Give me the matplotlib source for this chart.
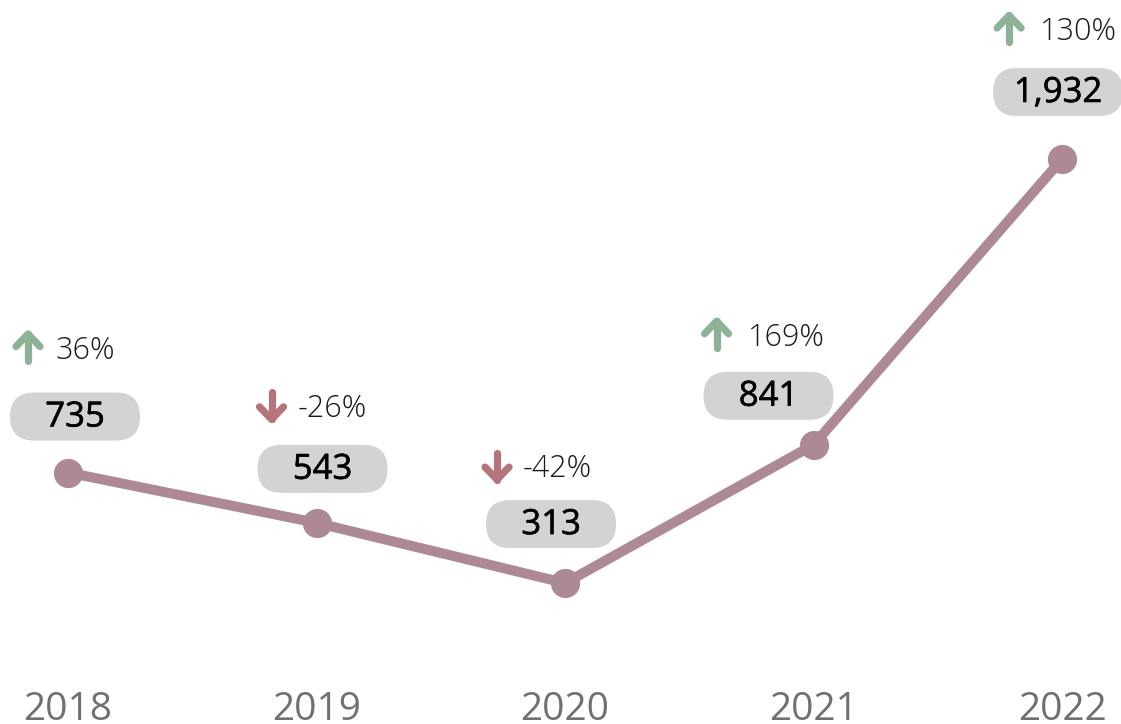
import matplotlib
matplotlib.use("Agg")
import matplotlib.pyplot as plt
from matplotlib.patches import FancyBboxPatch
from matplotlib.lines import Line2D
import matplotlib.patheffects as pe

# ---- data ----
years = ["2018", "2019", "2020", "2021", "2022"]
values = [735, 543, 313, 841, 1932]
value_labels = ["735", "543", "313", "841", "1,932"]
pct_change = [36, -26, -42, 169, 130]

# ---- layout (pixel offsets relative to each point) ----
pill_off = [(7, -56), (6, -54), (-14, -59), (-45, -49), (-4, -67)]
arrow_off = [(-56, -125), (-61, -117), (-84, -117), (-113, -110), (-69, -130)]
text_gap = [44, 42, 42, 47, 47]

W, H = 1121, 724
LINE_C = "#AD8993"
PILL_C = "#D3D3D3"
UP_C = "#8DB297"
DOWN_C = "#B5737B"

fig = plt.figure(figsize=(W / 100, H / 100), dpi=100)
ax = fig.add_axes([0, 0, 1, 1])
ax.set_xlim(-0.2736, 4.237)
ax.set_ylim(-225, 2539)
ax.axis("off")

x = list(range(len(values)))
ax.plot(x, values, color=LINE_C, lw=7.2, marker="o", ms=20,
        solid_capstyle="round", solid_joinstyle="round", zorder=2)

# overlay in image pixel coordinates
ov = fig.add_axes([0, 0, 1, 1], zorder=5)
ov.set_xlim(0, W)
ov.set_ylim(H, 0)
ov.axis("off")
ov.patch.set_alpha(0)

FONT = ["Open Sans", "DejaVu Sans"]

for i, v in enumerate(values):
    dx, dy = ax.transData.transform((i, v))
    px, py = dx, H - dy
    # year label
    ov.text(px, 720, years[i], ha="center", va="baseline", fontsize=28,
            color="#707070", family=FONT, fontweight=400)
    # pill
    cx, cy = px + pill_off[i][0], py + pill_off[i][1]
    pw, ph = 130, 48
    pill = FancyBboxPatch((cx - pw / 2, cy - ph / 2), pw, ph,
                          boxstyle="round,pad=0,rounding_size=24",
                          fc=PILL_C, ec="none", zorder=3)
    ov.add_patch(pill)
    ov.text(cx, cy + 1, value_labels[i], ha="center", va="center",
            fontsize=25, color="#000000", family=FONT, fontweight=400,
            zorder=4,
            path_effects=[pe.withStroke(linewidth=0.4, foreground="#000000")])
    # arrow
    axl, acy = px + arrow_off[i][0], py + arrow_off[i][1]
    up = pct_change[i] >= 0
    col = UP_C if up else DOWN_C
    top, bot = acy - 13.5, acy + 13.5
    mid = axl + 16
    if up:
        shaft = ([mid, mid], [bot, top])
        head = ([axl + 4, mid, axl + 28], [top + 12.5, top, top + 12.5])
    else:
        shaft = ([mid, mid], [top, bot])
        head = ([axl + 4, mid, axl + 28], [bot - 12.5, bot, bot - 12.5])
    for xs, ys in (shaft, head):
        ov.add_line(Line2D(xs, ys, color=col, lw=5.2, solid_capstyle="round",
                           solid_joinstyle="round", zorder=4))
    ov.text(axl + text_gap[i], acy + 3, f"{pct_change[i]}%", ha="left",
            va="center", fontsize=22, color="#1a1a1a", family=FONT,
            fontweight=300, zorder=4)

fig.savefig("out.png", dpi=100)
